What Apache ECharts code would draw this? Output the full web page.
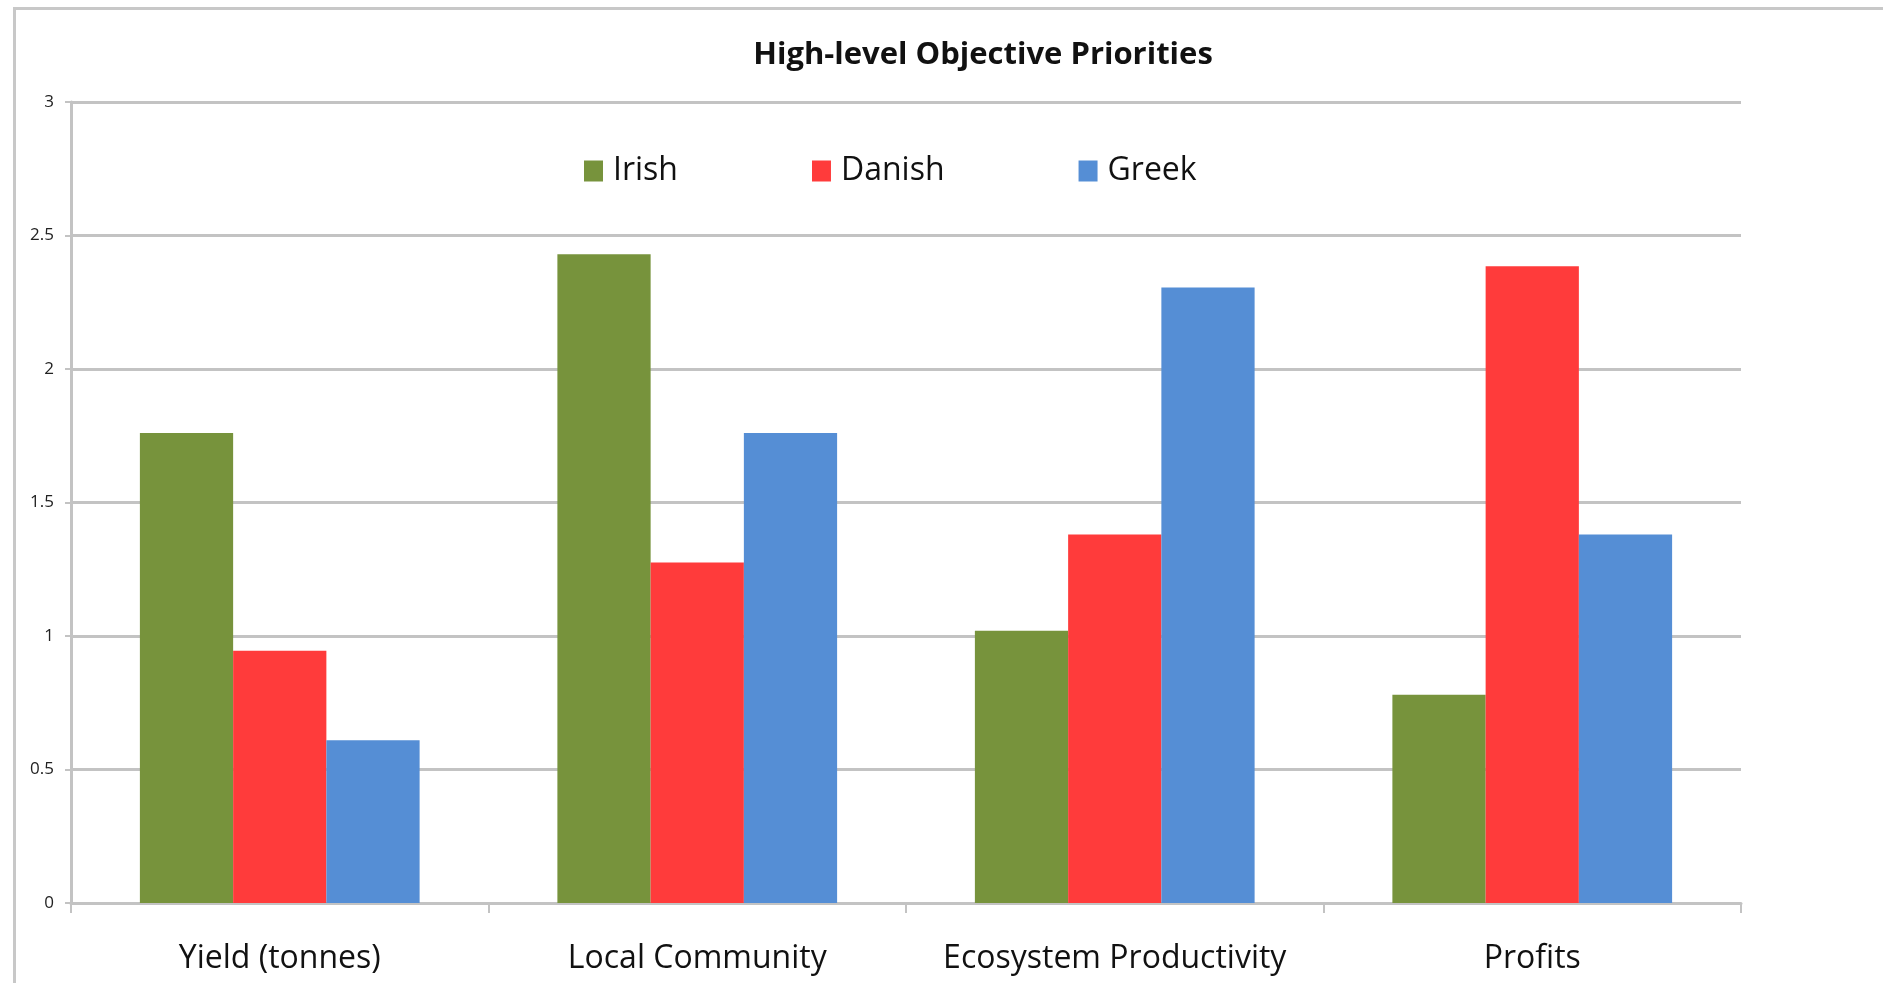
<!DOCTYPE html>
<html>
<head>
<meta charset="utf-8">
<script src="https://cdn.jsdelivr.net/npm/echarts@6/dist/echarts.min.js"></script>
<style>
html,body{margin:0;padding:0;background:#fff;}
#chart{width:1883px;height:983px;}
</style>
</head>
<body>
<div id="chart"></div>
<script>
const titleText = 'High-level Objective Priorities';
const categories = ['Yield (tonnes)', 'Local Community', 'Ecosystem Productivity', 'Profits'];
const seriesNames = ['Irish', 'Danish', 'Greek'];
const irish = [1.76, 2.43, 1.02, 0.78];
const danish = [0.945, 1.275, 1.38, 2.385];
const greek = [0.61, 1.76, 2.305, 1.38];
const yTicks = [0, 0.5, 1, 1.5, 2, 2.5, 3];
const colors = ['#77933C', '#FF3B3B', '#558ED5'];

const chart = echarts.init(document.getElementById('chart'));
const font = '"Open Sans", "Noto Sans", sans-serif';
const gridColor = '#c3c3c3';
const valuesBySeries = [irish, danish, greek];

chart.setOption({
  animation: false,
  backgroundColor: '#ffffff',
  graphic: [{
    type: 'rect',
    left: 12, top: 6,
    shape: { width: 1900, height: 1000 },
    style: { fill: 'none', stroke: '#c8c8c8', lineWidth: 3 },
    silent: true
  }],
  title: {
    text: titleText,
    left: 978,
    top: 35,
    textAlign: 'center',
    textStyle: { fontFamily: font, fontSize: 31, fontWeight: 'bold', color: '#111' }
  },
  legend: {
    data: seriesNames,
    left: 579,
    top: 150,
    itemWidth: 19,
    itemHeight: 21,
    itemGap: 134,
    icon: 'rect',
    textStyle: { fontFamily: font, fontSize: 32, color: '#111', padding: [0, 0, 0, 5] }
  },
  grid: { left: 71, right: 142, top: 102, bottom: 80, containLabel: false },
  xAxis: {
    type: 'category',
    data: categories,
    axisLine: { lineStyle: { color: gridColor, width: 3 } },
    axisTick: { show: true, interval: 0, length: 10, lineStyle: { color: gridColor, width: 2 }, alignWithLabel: false },
    axisLabel: { interval: 0, fontFamily: font, fontSize: 32, color: '#111', margin: 40 },
    splitLine: { show: false }
  },
  yAxis: {
    type: 'value',
    min: yTicks[0],
    max: yTicks[yTicks.length - 1],
    interval: 0.5,
    axisLine: { show: true, lineStyle: { color: gridColor, width: 3 } },
    axisTick: { show: true, length: 6, lineStyle: { color: gridColor, width: 2 } },
    axisLabel: { fontFamily: font, fontSize: 17, color: '#222', margin: 17 },
    splitLine: { show: true, lineStyle: { color: gridColor, width: 3 } }
  },
  series: seriesNames.map((name, i) => ({
    name: name,
    type: 'bar',
    data: valuesBySeries[i],
    barGap: '0%',
    barCategoryGap: '33%',
    itemStyle: { color: colors[i] }
  }))
});
</script>
</body>
</html>
